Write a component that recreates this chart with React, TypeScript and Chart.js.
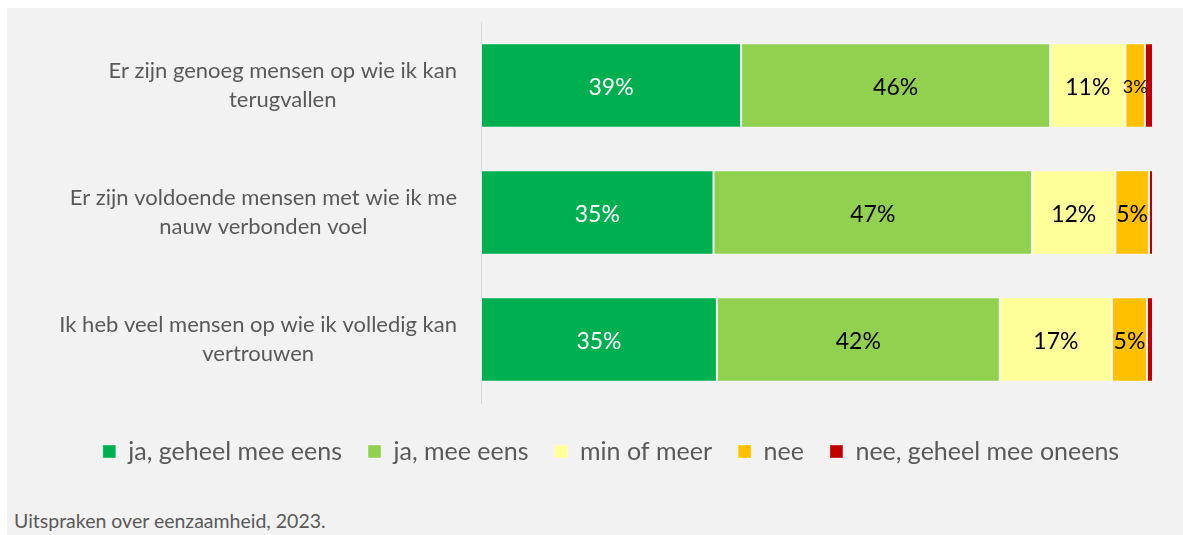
import React, { useEffect, useRef } from "react";
import { Chart, registerables } from "chart.js";

Chart.register(...registerables);

const categories: string[][] = [
  ["Er zijn genoeg mensen op wie ik kan", "terugvallen"],
  ["Er zijn voldoende mensen met wie ik me", "nauw verbonden voel"],
  ["Ik heb veel mensen op wie ik volledig kan", "vertrouwen"],
];
const seriesNames = [
  "ja, geheel mee eens",
  "ja, mee eens",
  "min of meer",
  "nee",
  "nee, geheel mee oneens",
];
const jaGeheel = [38.7, 34.6, 35.1];
const jaMee = [46.0, 47.4, 42.1];
const minOfMeer = [11.2, 12.4, 16.7];
const nee = [2.9, 5.0, 5.2];
const neeGeheel = [1.2, 0.6, 0.9];
const seriesColors = ["#00B050", "#92D050", "#FFFF99", "#FFC000", "#C00000"];
const caption = "Uitspraken over eenzaamheid, 2023.";

const FONT = "Lato";
const GRAY = "#595959";

const segLabels = {
  id: "segLabels",
  afterDatasetsDraw(chart: any) {
    const ctx = chart.ctx;
    chart.data.datasets.forEach((ds: any, di: number) => {
      if (di === 4) return;
      const meta = chart.getDatasetMeta(di);
      meta.data.forEach((bar: any, i: number) => {
        const v = ds.data[i] as number;
        const small = v < 4;
        const p = bar.getProps(["x", "base", "y"], true);
        ctx.save();
        ctx.font = `${small ? 18 : 23}px ${FONT}`;
        ctx.fillStyle = di === 0 ? "#ffffff" : "#000000";
        ctx.textAlign = "center";
        ctx.textBaseline = "middle";
        ctx.fillText(Math.round(v) + "%", (p.x + p.base) / 2, p.y + 2);
        ctx.restore();
      });
    });
  },
};

const catLabels = {
  id: "catLabels",
  afterDraw(chart: any) {
    const ctx = chart.ctx;
    const yScale = chart.scales.y;
    const left = chart.chartArea.left;
    const lh = 29;
    ctx.save();
    ctx.font = `22px ${FONT}`;
    ctx.fillStyle = GRAY;
    ctx.textAlign = "center";
    ctx.textBaseline = "middle";
    categories.forEach((lines, i) => {
      const y = yScale.getPixelForValue(i);
      const maxW = Math.max(...lines.map((l) => ctx.measureText(l).width));
      const cx = left - 24 - maxW / 2;
      lines.forEach((l, k) => {
        ctx.fillText(l, cx, y + (k - (lines.length - 1) / 2) * lh);
      });
    });
    ctx.restore();
  },
};

export default function App() {
  const ref = useRef<HTMLCanvasElement | null>(null);
  useEffect(() => {
    if (!ref.current) return;
    const values = [jaGeheel, jaMee, minOfMeer, nee, neeGeheel];
    const chart = new Chart(ref.current, {
      type: "bar",
      data: {
        labels: categories.map((c) => c.join(" ")),
        datasets: seriesNames.map((name, i) => ({
          label: name,
          data: values[i],
          backgroundColor: seriesColors[i],
          borderColor: "rgba(255,255,255,0.35)",
          borderWidth: 1,
          borderSkipped: false,
          categoryPercentage: 1,
          barPercentage: 0.665,
        })),
      },
      options: {
        indexAxis: "y",
        animation: false,
        responsive: false,
        maintainAspectRatio: false,
        layout: { padding: { top: 14, right: 30, left: 62, bottom: 0 } },
        scales: {
          x: {
            stacked: true,
            min: 0,
            max: 100,
            display: true,
            grid: { display: false },
            border: { display: false },
            ticks: { display: false },
            afterFit: (s: any) => {
              s.height = 10;
            },
          },
          y: {
            stacked: true,
            grid: { display: false },
            border: { display: true, color: "#D9D9D9", width: 1 },
            ticks: { display: false },
            afterFit: (s: any) => {
              s.width = 412;
            },
          },
        },
        plugins: {
          legend: {
            position: "bottom",
            labels: {
              boxWidth: 13,
              boxHeight: 13,
              padding: 26,
              color: GRAY,
              font: { family: FONT, size: 25 },
            },
          },
          tooltip: { enabled: false },
        },
      },
      plugins: [segLabels, catLabels],
    } as any);
    return () => chart.destroy();
  }, []);

  return (
    <div
      style={{
        position: "absolute",
        left: 7,
        top: 8,
        width: 1176,
        height: 527,
        background: "#F2F2F2",
        overflow: "hidden",
      }}
    >
      <canvas ref={ref} width={1176} height={466} style={{ display: "block" }} />
      <div
        style={{
          position: "absolute",
          left: 7,
          top: 500,
          fontFamily: FONT,
          fontSize: 19.5,
          color: GRAY,
          lineHeight: "26px",
          whiteSpace: "nowrap",
        }}
      >
        {caption}
      </div>
    </div>
  );
}
